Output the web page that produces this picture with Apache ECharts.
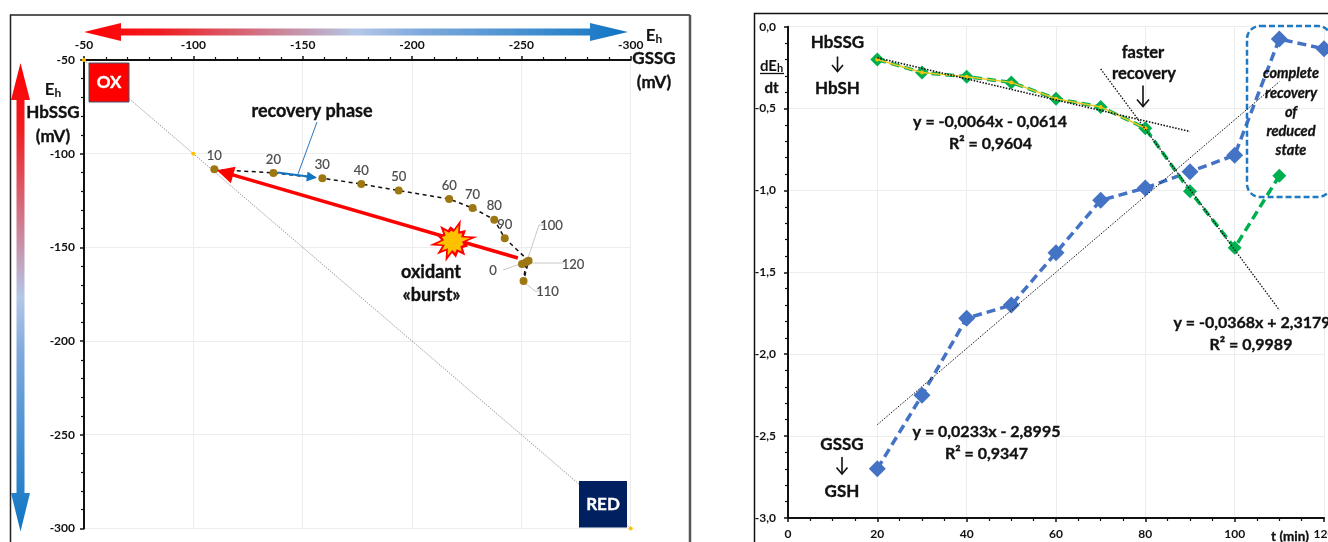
<!DOCTYPE html>
<html>
<head>
<meta charset="utf-8">
<style>html,body{margin:0;padding:0;background:#fff;overflow:hidden}#c{width:1328px;height:542px}</style>
<script src="https://cdn.jsdelivr.net/npm/echarts@6/dist/echarts.min.js"></script>
</head>
<body>
<div id="c"></div>
<script>
// ---------- left chart data ----------
const timeLabels = ['10','20','30','40','50','60','70','80','90','100','110','120'];
const gssgPotential = [-109.6,-136.6,-159,-176.8,-193.9,-217,-227.7,-237.6,-242.4,-253.3,-251,-252.1];
const hbssgPotential = [-108.3,-110.3,-113.1,-116.2,-119.7,-124.2,-129,-135.2,-145.1,-157.1,-167.9,-158];
const startGssg = -250.3, startHbssg = -158.9, startLabel = '0';
const diagonalGssg = [-50,-100,-300];
const diagonalHbssg = [-50,-100,-300];
const recoveryArrowGssg = [-138.5,-154.2];
const recoveryArrowHbssg = [-110,-112.5];
const burstArrowGssg = [-248.4,-114.5];
const burstArrowHbssg = [-155.7,-110.1];
const leftTicks = [-50,-100,-150,-200,-250,-300];
// ---------- right chart data ----------
const minutes = [20,30,40,50,60,70,80,90,100,110,120];
const gssgRate = [-2.7,-2.25,-1.78,-1.70,-1.38,-1.06,-0.985,-0.885,-0.785,-0.075,-0.135];
const hbssgRate = [-0.2,-0.28,-0.305,-0.34,-0.44,-0.49,-0.62,-1.005,-1.35,-0.91];
const hbssgEarlyMinutes = [20,30,40,50,60,70,80];
const hbssgEarlyRate = [-0.2,-0.28,-0.305,-0.34,-0.44,-0.49,-0.62];
const trendAx = [20,90], trendAy = [-0.19,-0.64];
const trendBx = [70,110], trendBy = [-0.258,-1.73];
const trendCx = [20,110], trendCy = [-2.43,-0.336];

const zip = (a,b)=>a.map((v,i)=>[v,b[i]]);
const FONT = 'Lato';
const DARK = '#111';

const labelOffsets = {'100':[23,-35],'110':[24,11],'120':[47,2],'0':[-29,7]};
const labelStyle = {color:'#4a4a4a',fontSize:13,fontFamily:FONT,textBorderColor:'#4a4a4a',textBorderWidth:0.2};
function labelled(x,y,name){
  const off = labelOffsets[name];
  return {value:[x,y],label: off ? {show:true,position:'inside',offset:off,formatter:name,...labelStyle}
                                 : {show:true,position:'top',distance:3,formatter:name,...labelStyle}};
}
const scatterPoints = timeLabels.map((n,i)=>labelled(gssgPotential[i],hbssgPotential[i],n));
scatterPoints.push(labelled(startGssg,startHbssg,startLabel));

function axisCommon(){
  return {
    axisLine:{onZero:false,lineStyle:{color:'#111',width:2}},
    axisTick:{length:4,lineStyle:{color:'#111',width:1.5}},
    minorTick:{show:true,length:3,splitNumber:5,lineStyle:{color:'#111',width:1.2}},
    splitLine:{show:true,lineStyle:{color:'#ededed',width:1}},
    minorSplitLine:{show:false},
    axisLabel:{color:'#111',fontSize:12,fontFamily:FONT,fontWeight:'bold',margin:9,showMinLabel:true,showMaxLabel:true}
  };
}
const commaFmt = v=>v.toFixed(1).replace('.',',');

// ---------- annotation helpers ----------
function T(x,y,text,size,o){
  o=o||{};
  const col=o.fill||DARK;
  return {type:'text',x:x,y:y,z:30,style:Object.assign({text:text,fill:col,stroke:col,lineWidth:0.35,
    font:(o.italic?'italic ':'')+'bold '+size+'px '+FONT,
    align:'center',verticalAlign:'middle'},o.style||{})};
}
function Eh(x,y){
  return {type:'text',x:x,y:y,z:30,style:{text:'{a|E}{b|h}',align:'center',verticalAlign:'middle',
    rich:{a:{font:'bold 17px '+FONT,fill:DARK},b:{font:'bold 12px '+FONT,fill:DARK,verticalAlign:'bottom',padding:[7,0,0,0]}}}};
}
function down(x,y1,y2,w){
  return {type:'polyline',z:30,shape:{points:[[x-w,y2-w-1],[x,y2],[x+w,y2-w-1]]},style:{stroke:DARK,lineWidth:1.6,fill:'none'}};
}
function shaft(x,y1,y2){
  return {type:'line',z:30,shape:{x1:x,y1:y1,x2:x,y2:y2},style:{stroke:DARK,lineWidth:1.6}};
}
function leader(pts){
  return {type:'polyline',z:1,shape:{points:pts},style:{stroke:'#c8c8c8',lineWidth:1,fill:'none'}};
}
const burstRadii = [23,17,25,16,19,17,22,21,24,17,20,15];
function burst(scale,valley,cx,cy,fill,z){
  const pts=[],n=burstRadii.length;
  burstRadii.forEach((r,i)=>{
    const a=(-70+i*360/n)*Math.PI/180, b=a+Math.PI/n;
    pts.push([cx+r*scale*Math.cos(a),cy+r*scale*Math.sin(a)]);
    pts.push([cx+valley*Math.cos(b),cy+valley*Math.sin(b)]);
  });
  return {type:'polygon',z:z,shape:{points:pts},style:{fill:fill}};
}
const stops=[{offset:0,color:'#ff0000'},{offset:.14,color:'#f01c20'},{offset:.5,color:'#b4c7e7'},{offset:.62,color:'#7fa9dc'},{offset:1,color:'#0f75c4'}];
const rbGradH={type:'linear',x:0,y:0,x2:1,y2:0,colorStops:stops};
const rbGradV={type:'linear',x:0,y:0,x2:0,y2:1,colorStops:stops};

const graphics = [
  // frames
  {type:'polyline',z:0,shape:{points:[[10.5,560],[10.5,15],[690,15]]},style:{stroke:'#222',lineWidth:1.5,fill:'none'}},
  {type:'line',z:0,shape:{x1:690,y1:15,x2:690,y2:560},style:{stroke:'#555',lineWidth:2.5}},
  {type:'polyline',z:0,shape:{points:[[754.5,560],[754.5,13.5],[1340,13.5]]},style:{stroke:'#111',lineWidth:1.5,fill:'none'}},
  // gradient arrows
  {type:'polygon',z:10,shape:{points:[[84,32],[121,23],[121,28.5],[590,28.5],[590,23],[628,32],[590,41],[590,35.5],[121,35.5],[121,41]]},style:{fill:rbGradH}},
  {type:'polygon',z:10,shape:{points:[[20.5,63],[30,100],[24.5,100],[24.5,493],[30,493],[20.5,531.5],[11,493],[16.5,493],[16.5,100],[11,100]]},style:{fill:rbGradV}},
  // left labels
  Eh(53,90),T(53,113,'HbSSG',17),T(53,137,'(mV)',17),
  Eh(654,36),T(654,59,'GSSG',17),T(654,83,'(mV)',17),
  {type:'rect',z:10,shape:{x:89,y:63,width:40,height:39},style:{fill:'#ff0000',stroke:'#44546a',lineWidth:1}},
  T(109,83,'OX',17,{fill:'#fff'}),
  {type:'rect',z:10,shape:{x:579,y:481,width:48,height:46.5},style:{fill:'#002060'}},
  T(603,505,'RED',17,{fill:'#fff'}),
  T(312,111,'recovery phase',18),
  {type:'line',z:6,shape:{x1:317,y1:122,x2:298,y2:174},style:{stroke:'#2f75b5',lineWidth:1}},
  T(431,272,'oxidant',18),T(431.5,295,'«burst»',18),
  burst(1,12,453,241,'#ff0000',12),
  burst(.7,9,453,241,'#ffc000',13),
  leader([[528,258],[539,225],[545,225]]),
  leader([[530,263],[563,263]]),
  leader([[503,270],[520,264]]),
  leader([[525,283],[535,291],[540,291]]),
  // right labels
  T(837.5,42.5,'HbSSG',17),shaft(837.5,56.5,71.5),down(837.5,56.5,71.5,5.5),T(837.5,89,'HbSH',17),
  {type:'text',x:771.5,y:66,z:30,style:{text:'{a|dE}{b|h}',align:'center',verticalAlign:'middle',
     rich:{a:{font:'bold 15px '+FONT,fill:DARK},b:{font:'bold 11px '+FONT,fill:DARK,verticalAlign:'bottom',padding:[5,0,0,0]}}}},
  {type:'line',z:30,shape:{x1:760,y1:73.5,x2:784,y2:73.5},style:{stroke:DARK,lineWidth:1.3}},
  T(771.5,88,'dt',15),
  T(990,121.5,'y = -0,0064x - 0,0614',16),T(990.5,144,'R² = 0,9604',16),
  T(1143,52.5,'faster',16.5),T(1144,74,'recovery',16.5),shaft(1143,85.5,106.5),down(1143,85.5,106.5,6),
  {type:'rect',z:5,shape:{x:1247,y:26,width:84,height:171,r:13},style:{fill:'none',stroke:'#1f7ac4',lineWidth:2.5,lineDash:[6,3]}},
  T(1291,73.5,'complete',14.5,{italic:true}),T(1291,93,'recovery',14.5,{italic:true}),T(1291,112,'of',14.5,{italic:true}),
  T(1291,131,'reduced',14.5,{italic:true}),T(1291,150,'state',14.5,{italic:true}),
  T(1252,322.5,'y = -0,0368x + 2,3179',16),T(1251,344.5,'R² = 0,9989',16),
  T(986.5,432,'y = 0,0233x - 2,8995',16),T(986.5,454,'R² = 0,9347',16),
  T(842,444.5,'GSSG',17),shaft(842,457,474),down(842,457,474,5.5),T(842,492,'GSH',17),
  T(1290,537,'t (min)',13.5)
];

const trendLine = (name,xs,ys,w)=>({name:name,type:'line',xAxisIndex:1,yAxisIndex:1,data:zip(xs,ys),showSymbol:false,symbol:'none',silent:true,z:7,
   lineStyle:{color:'#111',width:w,type:[1.5,1.5]}});

const option = {
  animation:false,
  backgroundColor:'#fff',
  grid:[
    {left:84,top:60,width:546.7,height:468.4,containLabel:false,outerBoundsMode:'none'},
    {left:788,top:26.7,width:536,height:491.3,containLabel:false,outerBoundsMode:'none'}
  ],
  xAxis:[
    Object.assign(axisCommon(),{gridIndex:0,type:'value',position:'top',inverse:true,min:-300,max:-50,interval:50}),
    Object.assign(axisCommon(),{gridIndex:1,type:'value',position:'bottom',min:0,max:120,interval:20})
  ],
  yAxis:[
    Object.assign(axisCommon(),{gridIndex:0,type:'value',position:'left',min:-300,max:-50,interval:50}),
    Object.assign(axisCommon(),{gridIndex:1,type:'value',position:'left',min:-3,max:0,interval:0.5})
  ],
  graphic:graphics,
  series:[
    {name:'Identity',type:'line',xAxisIndex:0,yAxisIndex:0,data:zip(diagonalGssg,diagonalHbssg),symbol:'circle',symbolSize:4,
      itemStyle:{color:'#ffc000'},lineStyle:{color:'#999',width:1,type:[1.5,1.2]},z:3,silent:true},
    {name:'Recovery',type:'line',xAxisIndex:0,yAxisIndex:0,data:zip(gssgPotential,hbssgPotential),showSymbol:false,symbol:'none',
      lineStyle:{color:'#111',width:1.5,type:[4,3.5]},z:4,silent:true,
      markLine:{silent:true,animation:false,label:{show:false},z:8,data:[
        [{coord:[burstArrowGssg[0],burstArrowHbssg[0]],symbol:'none',lineStyle:{color:'#ff0000',width:3.5,type:'solid'}},
         {coord:[burstArrowGssg[1],burstArrowHbssg[1]],symbol:'triangle',symbolSize:[17,17]}],
        [{coord:[recoveryArrowGssg[0],recoveryArrowHbssg[0]],symbol:'none',lineStyle:{color:'#0f75c4',width:2,type:'solid'}},
         {coord:[recoveryArrowGssg[1],recoveryArrowHbssg[1]],symbol:'triangle',symbolSize:[10,10]}]
      ]}},
    {name:'Time points',type:'scatter',xAxisIndex:0,yAxisIndex:0,data:scatterPoints,symbolSize:8,itemStyle:{color:'#9c7712',opacity:1},z:7,silent:true},
    trendLine('Trend HbSSG early',trendAx,trendAy,1.6),
    trendLine('Trend HbSSG late',trendBx,trendBy,1.3),
    trendLine('Trend GSSG',trendCx,trendCy,1),
    {name:'GSSG',type:'line',xAxisIndex:1,yAxisIndex:1,data:zip(minutes,gssgRate),symbol:'diamond',symbolSize:17,showAllSymbol:true,
      itemStyle:{color:'#4472c4'},lineStyle:{color:'#4472c4',width:3.5,type:[9,5]},z:4,silent:true},
    {name:'HbSSG',type:'line',xAxisIndex:1,yAxisIndex:1,data:zip(minutes.slice(0,hbssgRate.length),hbssgRate),symbol:'diamond',symbolSize:14,showAllSymbol:true,
      itemStyle:{color:'#00b050'},lineStyle:{color:'#00b050',width:3.5,type:[9,5]},z:5,silent:true},
    {name:'HbSSG early',type:'line',xAxisIndex:1,yAxisIndex:1,data:zip(hbssgEarlyMinutes,hbssgEarlyRate),symbol:'circle',symbolSize:4,showAllSymbol:true,
      itemStyle:{color:'#ffc000'},lineStyle:{color:'#e8c820',width:1.5},z:6,silent:true}
  ]
};
option.xAxis[1].axisLabel.margin=10;
option.yAxis[1].axisLabel.formatter=commaFmt;
option.yAxis[1].axisLabel.margin=12;
option.yAxis[1].minorTick.splitNumber=5;
option.xAxis[1].minorTick.splitNumber=4;

const chart = echarts.init(document.getElementById('c'),null,{renderer:'canvas'});
chart.setOption(option);
</script>
</body>
</html>
